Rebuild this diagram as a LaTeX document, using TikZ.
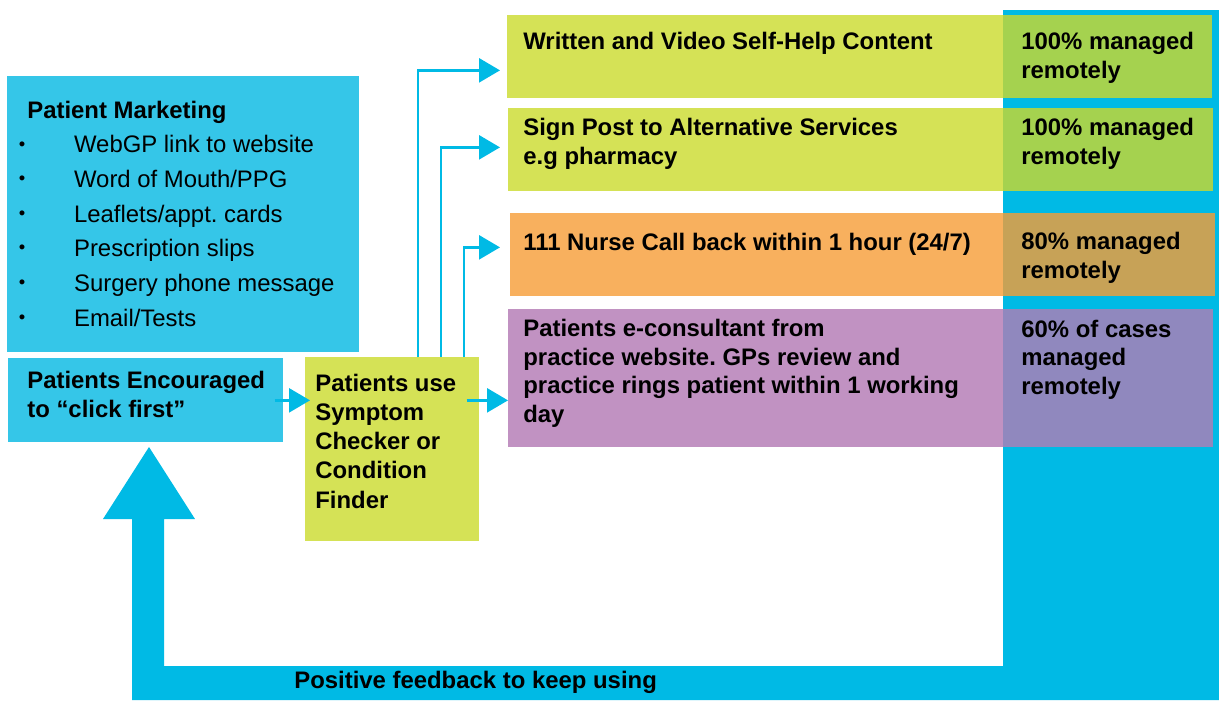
\documentclass[tikz,border=0pt]{standalone}
\usepackage{fontspec}
\setmainfont{Liberation Sans}
\usepackage{tikz}
\usetikzlibrary{arrows.meta, calc}
\definecolor{loopblue}{RGB}{0,186,229}
\definecolor{mktblue}{RGB}{53,198,232}
\definecolor{lime}{RGB}{213,226,86}
\definecolor{leaf}{RGB}{165,210,79}
\definecolor{apricot}{RGB}{248,176,94}
\definecolor{ochre}{RGB}{199,162,87}
\definecolor{mauve}{RGB}{193,146,194}
\definecolor{slateviolet}{RGB}{144,136,190}
\newcommand{\bul}{\makebox[32.3pt][l]{\hspace{0.8pt}\raisebox{1.6pt}{\fontsize{10.5}{10.5}\selectfont\textbullet}}}
\frenchspacing

\begin{document}
\begin{tikzpicture}[x=0.02cm, y=-0.02cm,
	panel/.style 2 args={anchor=north west, inner sep=0, minimum width=#1*0.02cm, minimum height=#2*0.02cm},
	txt/.style={anchor=base west, inner sep=0, align=left, font=\fontsize{13.6}{16.2}\selectfont\bfseries},
	flow/.style={loopblue, line width=1.5pt, -{Triangle[length=0.42cm, width=0.48cm]}}]
	\useasboundingbox (0,0) rectangle (1219,700);
	\fill [loopblue] (1003,10) -- (1219,10) -- (1219,700) -- (132,700) -- (132,519) -- (103,519) -- (149,447) -- (195,519) -- (164,519) -- (164,666) -- (1003,666) -- cycle;
	\node [panel={352}{276}, fill=mktblue] (mkt) at (7,76) {};
	\node [panel={275}{84}, fill=mktblue] (enc) at (8,358) {};
	\node [panel={174}{184}, fill=lime] (chk) at (305,357) {};
	\node [panel={496}{83}, fill=lime] (wsh) at (507,15) {};
	\node [panel={209}{83}, fill=leaf] (wshpct) at (1003,15) {};
	\node [panel={495}{83}, fill=lime] (sign) at (508,108) {};
	\node [panel={210}{83}, fill=leaf] (signpct) at (1003,108) {};
	\node [panel={493}{83}, fill=apricot] (nurse) at (510,213) {};
	\node [panel={212}{83}, fill=ochre] (nursepct) at (1003,213) {};
	\node [panel={495}{138}, fill=mauve] (ecs) at (508,309) {};
	\node [panel={210}{138}, fill=slateviolet] (ecspct) at (1003,309) {};

	\node [txt] (mkttitle) at (27,118) {Patient Marketing};
	\node [txt, font=\fontsize{13.6}{19.7}\selectfont] (mktlist) at (17,326) {\bul WebGP link to website\\ \bul Word of Mouth/PPG\\ \bul Leaflets/appt. cards\\ \bul Prescription slips\\ \bul Surgery phone message\\ \bul Email/Tests};
	\node [txt] (enctext) at (27,417) {Patients Encouraged\\ to “click first”};
	\node [txt, font=\fontsize{13.6}{16.6}\selectfont\bfseries] (chktext) at (315,508) {Patients use\\ Symptom\\ Checker or\\ Condition\\ Finder};
	\node [txt] (wshtext) at (523,49) {Written and Video Self-Help Content};
	\node [txt] (signtext) at (523,164) {Sign Post to Alternative Services\\ e.g pharmacy};
	\node [txt] (nursetext) at (523,250) {111 Nurse Call back within 1 hour (24/7)};
	\node [txt] (ecstext) at (523,422) {Patients e-consultant from\\ practice website. GPs review and\\ practice rings patient within 1 working\\ day};
	\node [txt] (wshnote) at (1021,78) {100\% managed\\ remotely};
	\node [txt] (signnote) at (1021,164) {100\% managed\\ remotely};
	\node [txt] (nursenote) at (1021,278) {80\% managed\\ remotely};
	\node [txt] (ecsnote) at (1021,394) {60\% of cases\\ managed\\ remotely};
	\node [txt] (fb) at (294,688) {Positive feedback to keep using};

	\draw [flow] ($(enc.east)+(-9,0)$) -- ($(chk.west |- enc.east)+(5,0)$);
	\draw [flow] ($(chk.east |- enc.east)+(-13,0)$) -- (ecs.west |- enc.east);
	\draw [flow] ($(chk.north west)+(113,0)$) |- ($(wsh.west)+(-7,13.5)$);
	\draw [flow] ($(chk.north west)+(136,0)$) |- ($(sign.west)+(-8,-2.5)$);
	\draw [flow] ($(chk.north west)+(159,0)$) |- ($(nurse.west)+(-10,-7.5)$);
\end{tikzpicture}
\end{document}
